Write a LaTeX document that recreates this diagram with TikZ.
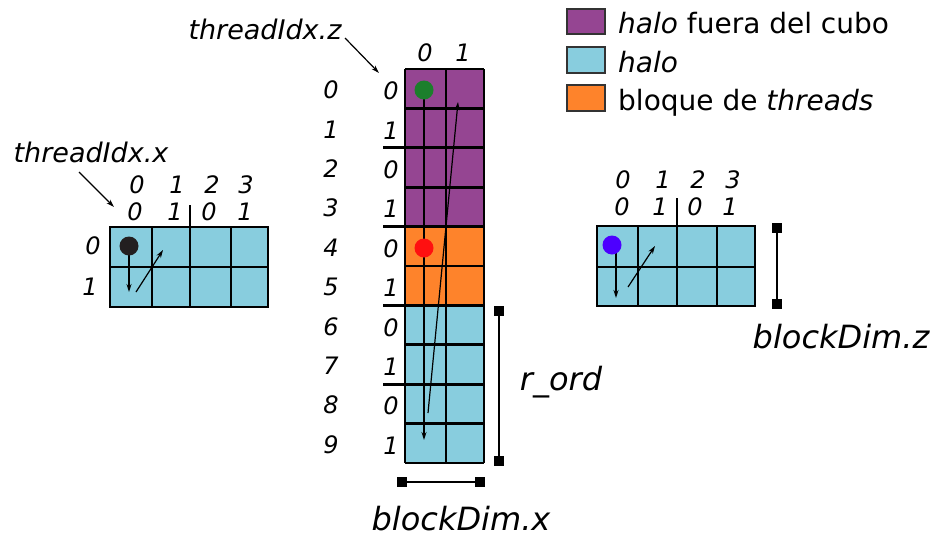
\documentclass[tikz,border=0pt]{standalone}
\usepackage{fontspec}
\setmainfont{DejaVu Sans}
\usetikzlibrary{arrows.meta}
\definecolor{cpurple}{HTML}{954592}
\definecolor{ccyan}{HTML}{88CDDE}
\definecolor{corange}{HTML}{FE832B}
\definecolor{cdark}{HTML}{231F20}
\definecolor{cgreen}{HTML}{1C7F2C}
\definecolor{cred}{HTML}{FF1010}
\definecolor{cblue}{HTML}{4C00FF}
\begin{document}
\begin{tikzpicture}[x=1pt,y=-1pt,
  gridline/.style={line width=2.7pt},
  lbl/.style={font=\fontsize{27}{30}\selectfont\itshape, inner sep=0},
  num/.style={font=\fontsize{24}{26}\selectfont\itshape, inner sep=0},
  biglbl/.style={font=\fontsize{32}{36}\selectfont\itshape, inner sep=0},
  leg/.style={font=\fontsize{28}{30}\selectfont, inner sep=0, anchor=base west},
  legbox/.style={draw=black!80, line width=1.2pt},
  arr/.style={-{Stealth[length=8pt,width=5pt]}, line width=1.2pt},
  bar/.style={line width=2.7pt},
  endsq/.style={fill=black, minimum size=10pt, inner sep=0},
  dot/.style={circle, inner sep=0, minimum size=19pt}]
\useasboundingbox (0,0) rectangle (936,536);

% ---------- legend ----------
\filldraw[legbox, fill=cpurple] (567,9) rectangle (605,34);
\filldraw[legbox, fill=ccyan] (567,47) rectangle (605,73);
\filldraw[legbox, fill=corange] (567,85) rectangle (605,111);
\node[leg] (l1) at (618,33) {\textit{halo} fuera del cubo};
\node[leg] (l2) at (618,72) {\textit{halo}};
\node[leg] (l3) at (618,110) {bloque de \textit{threads}};

% ---------- left grid (threadIdx.x) ----------
\fill[ccyan] (110,227) rectangle (268,307);
\draw[gridline] (110,227) rectangle (268,307);
\draw[gridline] (152,227)--(152,307) (190,227)--(190,307) (231,227)--(231,307) (110,267)--(268,267);
\draw[gridline] (190,205)--(190,227);
\node[num] (lh0) at (137,185) {0};
\node[num] (lh1) at (177,185) {1};
\node[num] (lh2) at (212,185) {2};
\node[num] (lh3) at (246,185) {3};
\node[num] (lk0) at (135,212) {0};
\node[num] (lk1) at (175,212) {1};
\node[num] (lk2) at (209,212) {0};
\node[num] (lk3) at (245,212) {1};
\node[num] (lr0) at (93,246) {0};
\node[num] (lr1) at (90,287) {1};
\coordinate (la1) at (129,292);
\coordinate (la2s) at (136,292);
\coordinate (la2e) at (163,250);
\draw[arr] (129,246) -- (la1);
\draw[arr] (la2s) -- (la2e);
\node[dot, fill=cdark] (ldot) at (129,246) {};
\node[lbl, anchor=base] (tix) at (91,162) {threadIdx.x};
\coordinate (tixe) at (114,207);
\draw[arr] (79,172) -- (tixe);

% ---------- middle column ----------
\fill[cpurple] (405,69) rectangle (484,226.6);
\fill[corange] (405,226.6) rectangle (484,305.4);
\fill[ccyan] (405,305.4) rectangle (484,463);
\foreach \r in {0,...,10}{
  \draw[gridline] (405,69+39.4*\r) -- (484,69+39.4*\r);
}
\draw[gridline] (405,69) -- (405,463) (446,69) -- (446,463) (484,69) -- (484,463);
\draw[gridline] (383,147.8) -- (405,147.8) (383,226.6) -- (405,226.6)
                (383,305.4) -- (405,305.4) (383,384.2) -- (405,384.2);
\node[num] (zc0) at (425,53) {0};
\node[num] (zc1) at (463,53) {1};
\foreach \i in {0,...,9}{
  \node[num] (zo\i) at (331,90+39.4*\i) {\i};
}
\foreach \i/\v in {0/0,1/1,2/0,3/1,4/0,5/1,6/0,7/1,8/0,9/1}{
  \node[num] (zi\i) at (391,91+39.4*\i) {\v};
}
\coordinate (ma1) at (424,440);
\coordinate (ma2s) at (428,413);
\coordinate (ma2e) at (458,102);
\draw[arr] (424,90) -- (ma1);
\draw[arr] (ma2s) -- (ma2e);
\node[dot, fill=cgreen] (gdot) at (424,90) {};
\node[dot, fill=cred] (rdot) at (424,248) {};
\node[lbl, anchor=base] (tiz) at (265,39) {threadIdx.z};
\coordinate (tize) at (379,73);
\draw[arr] (345,38) -- (tize);

% r_ord bar
\node[endsq] (ro1) at (499,311) {};
\node[endsq] (ro2) at (499,461) {};
\draw[bar] (ro1) -- (ro2);
\node[biglbl, anchor=base] (rord) at (561,390) {r\_ord};
% blockDim.x bar
\node[endsq] (bx1) at (402,482) {};
\node[endsq] (bx2) at (480,482) {};
\draw[bar] (bx1) -- (bx2);
\node[biglbl, anchor=base] (bdx) at (461,530) {blockDim.x};

% ---------- right grid ----------
\fill[ccyan] (597,226) rectangle (755,306);
\draw[gridline] (597,226) rectangle (755,306);
\draw[gridline] (638,226)--(638,306) (677,226)--(677,306) (717,226)--(717,306) (597,267)--(755,267);
\draw[gridline] (677,198)--(677,226);
\node[num] (rh0) at (623,180) {0};
\node[num] (rh1) at (663,180) {1};
\node[num] (rh2) at (698,180) {2};
\node[num] (rh3) at (733,180) {3};
\node[num] (rk0) at (622,207) {0};
\node[num] (rk1) at (660,207) {1};
\node[num] (rk2) at (695,207) {0};
\node[num] (rk3) at (730,207) {1};
\coordinate (ra1) at (616,298);
\coordinate (ra2s) at (628,287);
\coordinate (ra2e) at (655,246);
\draw[arr] (616,245) -- (ra1);
\draw[arr] (ra2s) -- (ra2e);
\node[dot, fill=cblue] (bdot) at (612,245) {};
\node[endsq] (bz1) at (777,228) {};
\node[endsq] (bz2) at (777,304) {};
\draw[bar] (bz1) -- (bz2);
\node[biglbl, anchor=base] (bdz) at (841,348) {blockDim.z};
\end{tikzpicture}
\end{document}
